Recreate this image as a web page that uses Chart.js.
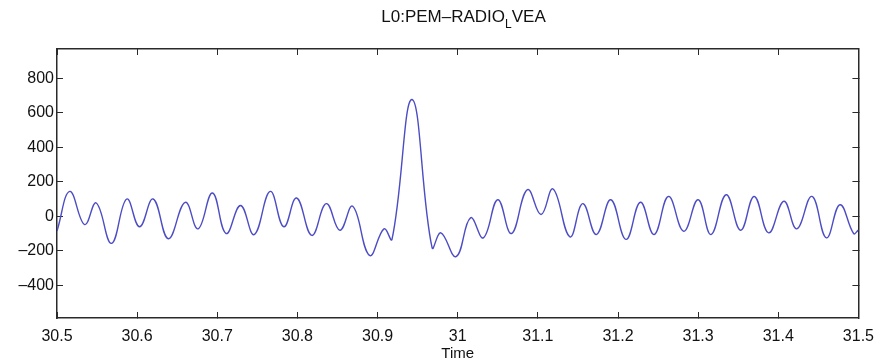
<!DOCTYPE html>
<html>
<head>
<meta charset="utf-8">
<title>L0:PEM-RADIO_LVEA</title>
<script src="https://cdn.jsdelivr.net/npm/chart.js@4.4.0/dist/chart.umd.min.js"></script>
<style>
    html, body { margin: 0; padding: 0; background: #fff; }
    #wrap { position: relative; width: 889px; height: 364px; }
    #plotTitle {
        position: absolute; top: 7px; left: 57px; width: 813px;
        text-align: center; color: #111;
        font: 17px 'Liberation Sans', Arial, sans-serif;
    }
    #plotTitle sub { font-size: 12px; vertical-align: -6px; }
</style>
</head>
<body>
<div id="wrap">
    <canvas id="radioChart" width="889" height="364"></canvas>
    <div id="plotTitle">L0:PEM–RADIO<sub>L</sub>VEA</div>
</div>
<script>
// Peaks and troughs of the LVEA radio channel (time in s)
const timeVals = [
    30.500, 30.516, 30.5345, 30.549, 30.568, 30.587, 30.603, 30.620, 30.639, 30.660,
    30.676, 30.694, 30.711, 30.729, 30.746, 30.766, 30.783, 30.799, 30.818, 30.836,
    30.853, 30.869, 30.890, 30.908, 30.918, 30.943, 30.968, 30.979, 30.998, 31.016,
    31.032, 31.050, 31.067, 31.087, 31.104, 31.119, 31.140, 31.156, 31.173, 31.191,
    31.210, 31.228, 31.245, 31.263, 31.282, 31.300, 31.316, 31.335, 31.353, 31.370,
    31.388, 31.407, 31.423, 31.442, 31.460, 31.477, 31.494, 31.500
];
const signalVals = [
    -85, 144, -48, 77, -157, 100, -61, 100, -130, 81,
    -73, 135, -100, 62, -106, 144, -61, 106, -111, 73,
    -81, 58, -227, -73, -134, 677, -182, -96, -234, -9,
    -125, 96, -100, 154, 10, 158, -119, 73, -106, 96,
    -134, 81, -106, 115, -87, 96, -106, 125, -81, 115,
    -96, 87, -73, 115, -125, 67, -100, -80
];

const xTicks = [30.5, 30.6, 30.7, 30.8, 30.9, 31.0, 31.1, 31.2, 31.3, 31.4, 31.5];
const yTicks = [-400, -200, 0, 200, 400, 600, 800];
const xRange = [30.5, 31.5];
const yRange = [-590, 970];

const FONT = { family: "'Liberation Sans', Arial, sans-serif", size: 16 };
const AXIS_COLOR = '#2a2a2a';

function fixTicks(values) {
    return function (scale) {
        scale.ticks = values.map(v => ({ value: v }));
    };
}

function fmtX(v) {
    return String(Math.round(v * 10) / 10);
}

function fmtY(v) {
    return v < 0 ? '–' + Math.abs(v) : String(v);
}

// box axes: tick marks point into the plot, labels only on left/bottom
function boxAxis(position, range, ticks, size, showLabels, fmt, pad) {
    const horizontal = position === 'top' || position === 'bottom';
    return {
        type: 'linear',
        position: position,
        min: range[0],
        max: range[1],
        afterBuildTicks: fixTicks(ticks),
        afterFit: function (scale) {
            if (horizontal) scale.height = size; else scale.width = size;
        },
        border: { display: true, color: AXIS_COLOR, width: 1.5 },
        grid: {
            drawOnChartArea: false,
            drawTicks: true,
            tickLength: -6,
            tickColor: AXIS_COLOR,
            tickWidth: 1
        },
        ticks: {
            display: showLabels,
            color: '#111',
            font: FONT,
            padding: pad,
            maxRotation: 0,
            autoSkip: false,
            callback: fmt
        }
    };
}

const xAxis = boxAxis('bottom', xRange, xTicks, 46, true, fmtX, 15);
xAxis.title = {
    display: true, text: 'Time', color: '#111',
    font: { family: FONT.family, size: 15 },
    padding: { top: 0, bottom: 1 }
};

new Chart(document.getElementById('radioChart'), {
    type: 'line',
    data: {
        datasets: [{
            data: timeVals.map((t, i) => ({ x: t, y: signalVals[i] })),
            borderColor: 'rgb(76, 76, 196)',
            borderWidth: 1.4,
            pointRadius: 0,
            tension: 0.42,
            fill: false
        }]
    },
    options: {
        responsive: false,
        animation: false,
        layout: { padding: 0 },
        plugins: {
            legend: { display: false },
            tooltip: { enabled: false }
        },
        scales: {
            x: xAxis,
            y: boxAxis('left', yRange, yTicks, 57, true, fmtY, 9),
            xTop: boxAxis('top', xRange, xTicks, 49, false, fmtX, 0),
            yRight: boxAxis('right', yRange, yTicks, 19, false, fmtY, 0)
        }
    }
});
</script>
</body>
</html>
